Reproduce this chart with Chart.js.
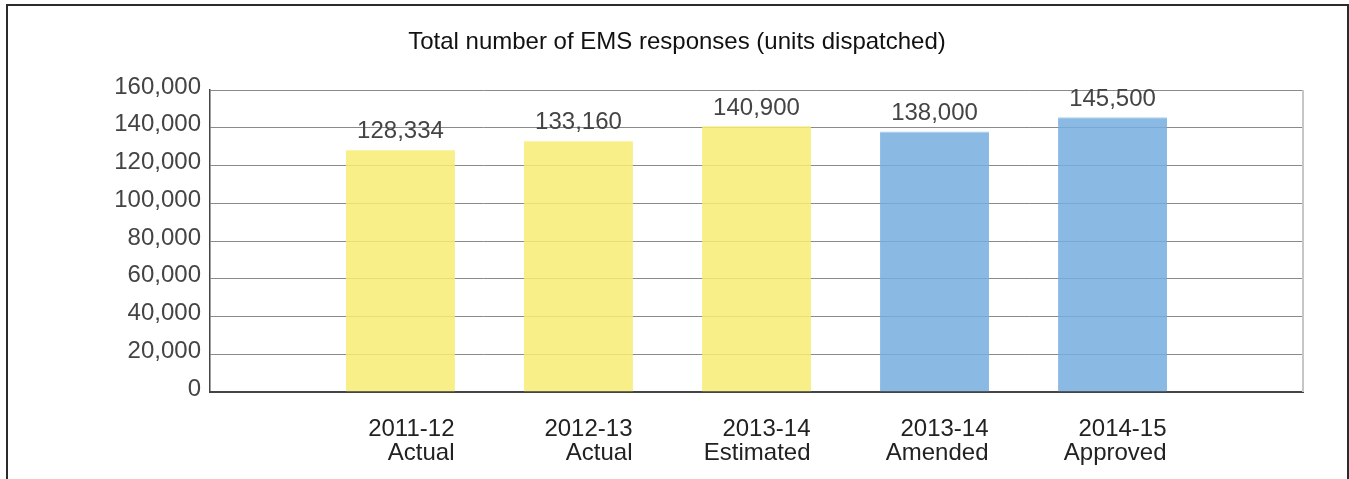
<!DOCTYPE html>
<html>
<head>
<meta charset="utf-8">
<script src="https://cdn.jsdelivr.net/npm/chart.js@4/dist/chart.umd.min.js"></script>
<style>
    html, body { margin: 0; padding: 0; background: #fff; overflow: hidden; }
    #frame {
        position: absolute; left: 6px; top: 4px;
        width: 1339px; height: 600px;
        border: 2px solid #2b2b2b;
    }
    #emsChart { position: absolute; left: 0; top: 0; }
</style>
</head>
<body>
<div id="frame"></div>
<canvas id="emsChart" width="1349" height="479"></canvas>
<script>
// EMS responses per fiscal year
const years = ['2011-12', '2012-13', '2013-14', '2013-14', '2014-15'];
const stages = ['Actual', 'Actual', 'Estimated', 'Amended', 'Approved'];
const responses = [128334, 133160, 140900, 138000, 145500];
const barColors = [
    'rgba(247,236,115,0.85)', 'rgba(247,236,115,0.85)', 'rgba(247,236,115,0.85)',
    'rgba(117,173,222,0.85)', 'rgba(117,173,222,0.85)'
];
const barTopColors = ['#faf3a8', '#faf3a8', '#faf3a8', '#a9cdee', '#a9cdee'];
const yTicks = [0, 20000, 40000, 60000, 80000, 100000, 120000, 140000, 160000];

const FONT = 'Liberation Sans, Arial, Helvetica, sans-serif';
const fmt = v => v.toLocaleString('en-US');

// values written above each bar
const valueLabels = {
    id: 'valueLabels',
    afterDatasetsDraw(chart) {
        const ctx = chart.ctx;
        const meta = chart.getDatasetMeta(0);
        ctx.save();
        ctx.font = `24px ${FONT}`;
        ctx.fillStyle = '#444';
        ctx.textAlign = 'center';
        ctx.textBaseline = 'middle';
        meta.data.forEach((bar, i) => {
            ctx.fillText(fmt(responses[i]), bar.x, bar.y - 18);
        });
        ctx.restore();
    }
};

// light frame line on the right side of the plot
const plotEdge = {
    id: 'plotEdge',
    afterDraw(chart) {
        const { ctx, chartArea } = chart;
        ctx.save();
        ctx.strokeStyle = '#c6c6c6';
        ctx.lineWidth = 2;
        ctx.beginPath();
        ctx.moveTo(chartArea.right, chartArea.top);
        ctx.lineTo(chartArea.right, chartArea.bottom);
        ctx.stroke();
        ctx.restore();
    }
};

new Chart(document.getElementById('emsChart'), {
    type: 'bar',
    data: {
        datasets: [{
            data: responses.map((v, i) => ({ x: i, y: v })),
            backgroundColor: barColors,
            borderColor: barTopColors,
            borderWidth: { top: 1, right: 0, bottom: 0, left: 0 },
            borderSkipped: 'bottom',
            barPercentage: 0.612,
            categoryPercentage: 1
        }]
    },
    options: {
        responsive: false,
        animation: false,
        devicePixelRatio: 1,
        layout: { padding: { left: 51, right: 46, top: 0, bottom: 13.5 } },
        plugins: {
            legend: { display: false },
            tooltip: { enabled: false },
            title: {
                display: true,
                text: 'Total number of EMS responses (units dispatched)',
                color: '#111',
                font: { family: FONT, size: 24, weight: 'normal', lineHeight: 1.2 },
                padding: { top: 28, bottom: 33.2 }
            }
        },
        scales: {
            x: {
                type: 'linear',
                min: -1.07,
                max: 5.07,
                offset: false,
                afterFit: scale => { scale.height = 73.5; },
                grid: { display: true, color: 'rgba(0,0,0,0)', drawTicks: false, offset: false },
                border: { display: true, color: '#444', width: 2 },
                ticks: {
                    stepSize: 1,
                    includeBounds: false,
                    autoSkip: false,
                    maxRotation: 0,
                    align: 'end',
                    labelOffset: 54,
                    padding: 25.5,
                    color: '#222',
                    font: { family: FONT, size: 24, lineHeight: 1.0 },
                    callback: v => (Number.isInteger(v) && v >= 0 && v < years.length)
                        ? [years[v], stages[v]] : ''
                }
            },
            y: {
                min: yTicks[0],
                max: yTicks[yTicks.length - 1],
                afterFit: scale => { scale.width = 159; },
                afterBuildTicks: scale => { scale.ticks = yTicks.map(v => ({ value: v })); },
                grid: { color: '#8a8a8a', lineWidth: 1, drawTicks: false },
                border: { display: true, color: '#444', width: 1.5 },
                ticks: {
                    padding: 9,
                    labelOffset: -3,
                    color: '#444',
                    font: { family: FONT, size: 24 },
                    callback: v => fmt(v)
                }
            }
        }
    },
    plugins: [valueLabels, plotEdge]
});
</script>
</body>
</html>
